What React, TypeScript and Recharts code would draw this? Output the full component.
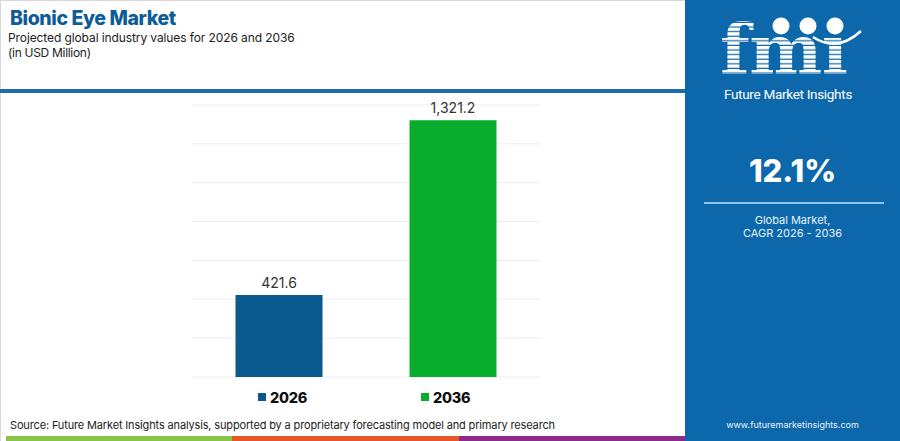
import React from 'react';
import { BarChart, Bar, XAxis, YAxis, CartesianGrid, LabelList, Cell } from 'recharts';

// values (USD Million)
const years = ['2026', '2036'];
const marketValues = [421.6, 1321.2];
const barColors = ['#0b5a8f', '#09ad2d'];
const yTicks = [0, 200, 400, 600, 800, 1000, 1200, 1400];

const cagr = '12.1%';
const footerStrip = ['#8bc34a', '#e8572a', '#8e2a8b'];

const chartData = years.map((year, i) => ({ year, value: marketValues[i] }));

const FONT = 'Inter, "Open Sans", sans-serif';

function formatValue(v: number) {
  return v.toLocaleString('en-US', { minimumFractionDigits: 1, maximumFractionDigits: 1 });
}

// legend under the bars, one entry per year
function LegendBox() {
  const lefts = [258, 421];
  return (
    <>
      {years.map((y, i) => (
        <div key={y} style={{ position: 'absolute', left: lefts[i], top: 388, display: 'flex', alignItems: 'center', height: 18 }}>
          <div style={{ width: 8, height: 8, background: barColors[i], marginRight: 4 }} />
          <span style={{ fontWeight: 800, fontSize: 14.5, color: '#111', letterSpacing: -0.3 }}>{y}</span>
        </div>
      ))}
    </>
  );
}

function Logo() {
  return (
    <svg width={215} height={110} style={{ position: 'absolute', left: 0, top: 0 }}>
      <defs>
        <pattern id="stripes" width={10} height={4.6} patternUnits="userSpaceOnUse">
          <rect width={10} height={3.4} fill="#ffffff" />
        </pattern>
      </defs>
      <text x={35} y={74} fontFamily='"DejaVu Serif", serif' fontWeight={700} fontSize={69} fill="url(#stripes)" letterSpacing={-0.5}>
        fmı
      </text>
      <circle cx={96} cy={26} r={8.5} fill="#fff" />
      <circle cx={123} cy={26} r={8.5} fill="#fff" />
      <circle cx={150} cy={26} r={8.5} fill="#fff" />
      <path d="M 128 37 Q 152 53 176 31" stroke="#fff" strokeWidth={2.5} fill="none" />
      <text x={103} y={99} textAnchor="middle" fontFamily='Roboto, sans-serif' fontSize={13.5} fill="#fff" letterSpacing={-0.3}>
        Future Market Insights
      </text>
    </svg>
  );
}

export default function App() {
  return (
    <div style={{ position: 'absolute', left: 0, top: 0, width: 900, height: 441, background: '#fff', overflow: 'hidden', fontFamily: FONT }}>
      <div style={{ position: 'absolute', left: 0, top: 0, width: 685, height: 441, borderTop: '1px solid #d8d8d8', borderLeft: '1px solid #d8d8d8', boxSizing: 'border-box' }} />

      {/* header */}
      <div style={{ position: 'absolute', left: 10, top: 8, fontSize: 19.5, lineHeight: '20px', fontWeight: 800, color: '#0e5c97', letterSpacing: -0.4 }}>
        Bionic Eye Market
      </div>
      <div style={{ position: 'absolute', left: 8, top: 31, fontSize: 12, lineHeight: '14px', color: '#222', letterSpacing: -0.1 }}>
        Projected global industry values for 2026 and 2036
      </div>
      <div style={{ position: 'absolute', left: 8, top: 46, fontSize: 12, lineHeight: '14px', color: '#222', letterSpacing: -0.3 }}>
        (in USD Million)
      </div>
      <div style={{ position: 'absolute', left: 0, top: 89, width: 685, height: 4, background: '#1c6cab' }} />

      <div style={{ position: 'absolute', left: 0, top: 0 }}>
        <BarChart
          width={685}
          height={441}
          data={chartData}
          margin={{ top: 105, left: 192, right: 145, bottom: 64 }}
          barCategoryGap="25%"
        >
          <CartesianGrid vertical={false} stroke="#ececec" />
          <XAxis dataKey="year" hide />
          <YAxis domain={[0, 1400]} ticks={yTicks} hide />
          <Bar dataKey="value" isAnimationActive={false}>
            {chartData.map((d, i) => (
              <Cell key={d.year} fill={barColors[i]} />
            ))}
            <LabelList
              dataKey="value"
              position="top"
              offset={7}
              formatter={(v: any) => formatValue(Number(v))}
              style={{ fill: '#333', fontSize: 14, fontFamily: FONT }}
            />
          </Bar>
        </BarChart>
      </div>

      <LegendBox />

      {/* source + colour strip */}
      <div style={{ position: 'absolute', left: 10, top: 418, fontSize: 11, color: '#222', letterSpacing: -0.15 }}>
        Source: Future Market Insights analysis, supported by a proprietary forecasting model and primary research
      </div>
      {footerStrip.map((c, i) => (
        <div key={c} style={{ position: 'absolute', left: 6 + i * 226.3, top: 436, width: 226.3, height: 5, background: c }} />
      ))}

      {/* right panel */}
      <div style={{ position: 'absolute', left: 685, top: 0, width: 215, height: 441, background: '#0c68aa' }}>
        <Logo />
        <div style={{ position: 'absolute', left: 0, width: 215, top: 152, textAlign: 'center', color: '#fff', fontSize: 31, fontWeight: 800 }}>
          {cagr}
        </div>
        <div style={{ position: 'absolute', left: 19, top: 202, width: 180, height: 2, background: '#8ec3e8' }} />
        <div style={{ position: 'absolute', left: 0, width: 215, top: 214, textAlign: 'center', color: '#e8f1f8', fontSize: 11, lineHeight: '13px' }}>
          Global Market,
          <br />
          CAGR 2026 - 2036
        </div>
        <div style={{ position: 'absolute', left: 0, width: 215, top: 419, textAlign: 'center', color: '#e8f1f8', fontSize: 9 }}>
          www.futuremarketinsights.com
        </div>
      </div>
    </div>
  );
}
